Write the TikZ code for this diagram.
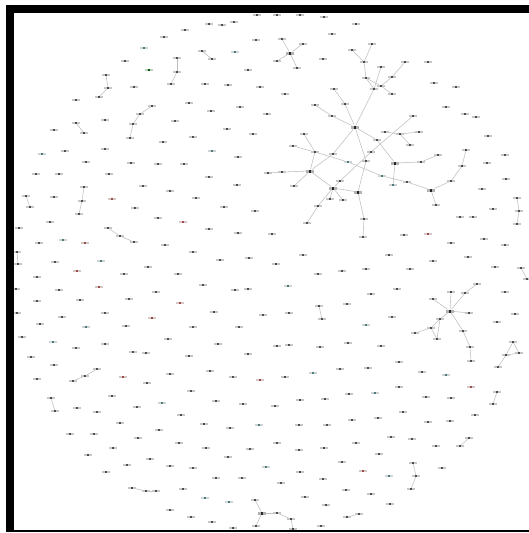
\documentclass[tikz,border=0pt]{standalone}
\pgfdeclarelayer{back}
\pgfdeclarelayer{bg}
\pgfsetlayers{back,bg,main}
\tikzset{
  nodebase/.style 2 args={rectangle, inner sep=0pt, minimum width=7.5pt, minimum height=1.7pt, fill=#1,
    path picture={\fill[#2] ([xshift=-1.2pt]path picture bounding box.south) rectangle ([xshift=1.2pt]path picture bounding box.north);}},
  nd/.style={nodebase={black!22}{black!70}},
  ndt/.style={nodebase={teal!30!black!20}{teal!50!black!70}},
  ndg/.style={nodebase={green!30!black!25}{green!35!black}},
  ndr/.style={nodebase={red!30!black!22}{red!45!black!70}},
  hubnd/.style={nodebase={black!30}{black!85}, minimum height=3pt, minimum width=7.5pt},
  conn/.style={draw=black!25, line width=0.55pt},
  border/.style={fill=black}
}
\begin{document}
\begin{tikzpicture}[x=1pt,y=-1pt]
\useasboundingbox (0,0) rectangle (529,533);
\begin{pgfonlayer}{back}
\fill[white] (0,0) rectangle (529,533);
\end{pgfonlayer}
% plain nodes
\foreach \x/\y in {
164/37,125/61,177/58,177/72,171/84,106/75,108/88,99/97,134/87,76/100,152/106,140/114,133/124,130/138,175/121,105/120,76/123,84/133,54/130,163/142,105/149,65/151,86/162,131/163,158/164,36/174,59/174,109/174,
257/15,277/15,300/15,324/17,209/24,222/25,234/22,185/30,256/40,282/39,303/44,277/61,297/68,332/34,202/51,212/59,323/59,248/70,205/84,228/85,260/87,285/94,334/89,189/103,240/107,211/111,267/114,315/105,345/104,332/116,227/129,193/137,253/134,304/134,293/146,315/152,333/154,238/157,184/164,268/173,282/172,340/181,209/177,
356/24,372/44,352/50,364/62,381/67,405/62,428/62,366/78,392/77,374/89,381/86,392/94,434/83,456/87,446/107,465/114,476/117,413/116,385/132,400/134,419/132,410/145,377/140,371/152,366/161,421/162,438/155,466/150,462/166,488/136,505/155,487/163,506/179,
84/187,82/201,79/214,26/196,30/207,54/197,143/186,170/191,135/208,50/222,158/218,19/228,108/228,120/236,134/242,39/243,165/245,17/252,18/264,55/262,148/267,124/274,178/274,37/277,16/289,59/290,156/292,37/301,80/300,129/299,17/313,105/313,62/317,40/324,126/326,22/337,76/348,105/344,168/339,31/357,133/352,146/353,
237/185,294/186,330/199,343/200,318/206,307/223,196/198,224/207,255/211,209/229,238/233,272/234,193/252,220/260,249/258,276/264,303/255,318/274,342/271,203/285,235/290,248/289,214/312,263/315,289/313,319/306,322/319,347/304,193/327,239/327,218/344,277/346,289/345,320/347,348/343,
436/205,451/181,364/219,363/237,482/189,517/198,519/211,517/224,493/209,460/217,473/217,404/235,451/243,484/239,505/245,389/255,433/261,468/257,366/269,410/269,495/267,521/268,527/279,397/289,371/294,451/292,465/293,477/284,505/292,433/299,469/313,440/319,431/328,437/339,415/333,463/331,470/347,392/317,497/322,515/314,381/346,513/342,506/355,519/353,407/182,
54/365,37/379,73/381,85/376,97/369,147/383,170/374,51/398,55/411,77/408,97/412,112/396,137/407,120/423,70/434,94/434,159/430,138/438,113/448,88/455,150/459,127/465,170/466,106/472,132/488,146/491,156/491,170/510,
189/356,248/354,210/371,233/377,285/377,340/369,191/391,216/401,243/404,275/406,300/400,325/399,349/394,181/415,204/424,230/428,299/425,327/425,352/420,179/443,206/448,250/449,277/443,299/450,324/448,356/443,228/457,342/462,193/468,300/472,216/478,242/478,281/483,323/479,183/489,305/497,346/490,326/505,255/500,277/513,291/519,293/529,256/526,191/517,212/522,233/528,321/526,347/517,359/514,
471/361,498/367,399/362,368/368,422/372,399/387,497/392,493/404,426/397,451/398,403/412,378/418,428/422,450/421,475/415,391/437,412/439,436/446,469/438,460/446,379/454,413/463,416/476,411/489,442/468,371/494,390/504}
  \node[nd] (p\x-\y) at (\x,\y) {};
% hubs
\foreach \x/\y in {290/53,310/171,355/127,395/163,333/188,358/192,431/190,450/311,262/513}
  \node[hubnd] (p\x-\y) at (\x,\y) {};
% teal / green / red nodes
\foreach \x/\y in {144/48,42/154,235/52,212/151,348/162,382/176,393/185,63/240,101/261,86/327,53/342,288/286,366/325,162/403,313/373,259/425,205/498,229/502,266/467,446/375,375/393,389/476}
  \node[ndt] (p\x-\y) at (\x,\y) {};
\foreach \x/\y in {149/70}
  \node[ndg] (p\x-\y) at (\x,\y) {};
\foreach \x/\y in {112/199,85/243,77/271,99/287,152/318,183/222,180/303,428/234,123/377,260/380,471/387,363/471}
  \node[ndr] (p\x-\y) at (\x,\y) {};
% connectors
\begin{pgfonlayer}{bg}
\foreach \a/\b in {
177-58/177-72,177-72/171-84,106-75/108-88,108-88/99-97,152-106/140-114,140-114/133-124,133-124/130-138,76-123/84-133,
202-51/212-59,290-53/282-39,290-53/303-44,290-53/277-61,290-53/297-68,
84-187/82-201,82-201/79-214,26-196/30-207,108-228/120-236,120-236/134-242,17-252/18-264,
319-306/322-319,517-198/519-211,519-211/517-224,521-268/527-279,
73-381/85-376,85-376/97-369,51-398/55-411,132-488/146-491,146-491/156-491,
255-500/262-513,262-513/256-526,262-513/277-513,277-513/291-519,291-519/293-529,347-517/359-514,
497-392/493-404,469-438/460-446,413-463/416-476,416-476/411-489,
450-311/451-292,450-311/465-293,465-293/477-284,450-311/433-299,450-311/469-313,450-311/440-319,440-319/431-328,431-328/415-333,431-328/437-339,440-319/437-339,450-311/463-331,463-331/470-347,470-347/471-361,
513-342/506-355,506-355/519-353,519-353/513-342,506-355/498-367,
372-44/364-62,352-50/364-62,364-62/366-78,366-78/374-89,366-78/381-86,381-86/392-94,405-62/392-77,392-77/381-86,381-67/374-89,374-89/355-127,
355-127/345-104,345-104/334-89,355-127/332-116,332-116/315-105,355-127/333-154,333-154/310-171,355-127/366-161,366-161/358-192,355-127/377-140,377-140/395-163,
385-132/400-134,400-134/419-132,400-134/410-145,413-116/371-152,371-152/340-181,340-181/333-188,
304-134/315-152,293-146/315-152,315-152/310-171,315-152/348-162,348-162/382-176,382-176/407-182,395-163/393-185,395-163/421-162,421-162/438-155,
310-171/282-172,282-172/268-173,310-171/294-186,310-171/333-188,
333-188/330-199,333-188/343-200,333-188/358-192,333-188/318-206,318-206/307-223,358-192/364-219,364-219/363-237,
407-182/431-190,431-190/436-205,431-190/451-181,451-181/462-166,462-166/466-150}
  \draw[conn] (p\a) -- (p\b);
\end{pgfonlayer}
% frame bars drawn on top
\fill[border] (6,5) rectangle (529,13.3);
\fill[border] (6,5) rectangle (14,531.5);
\fill[border] (6,529.6) rectangle (529,531.6);
\end{tikzpicture}
\end{document}
